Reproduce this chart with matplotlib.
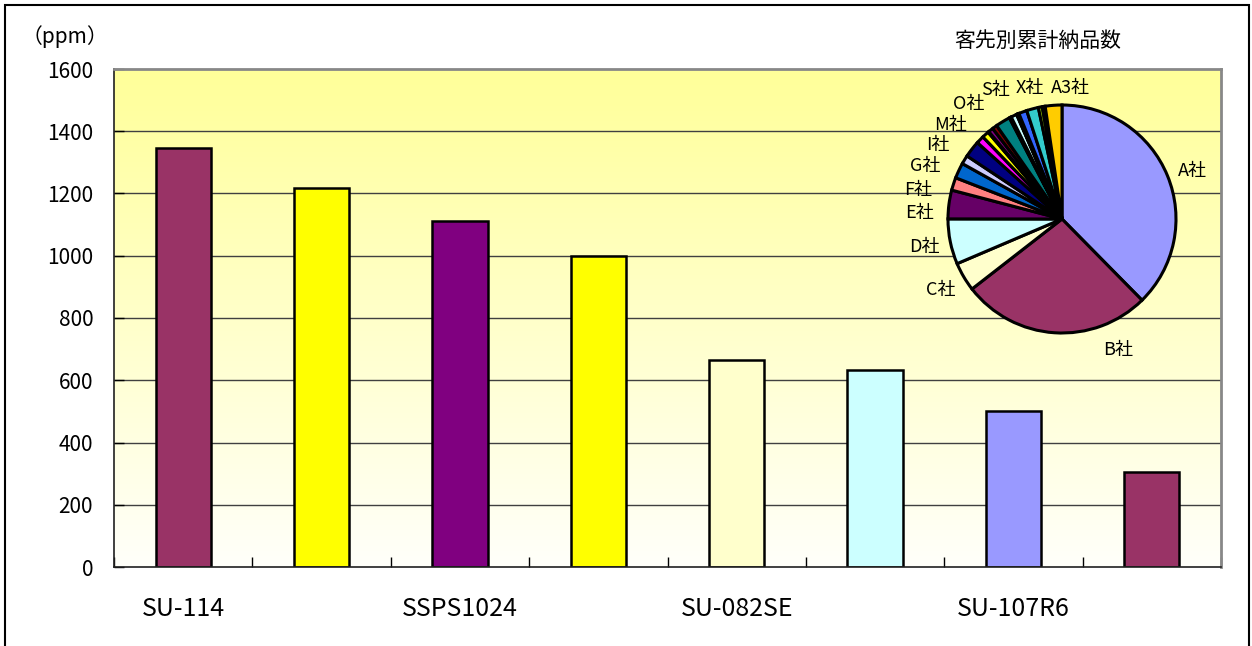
import numpy as np
import matplotlib
matplotlib.use("Agg")
import matplotlib.pyplot as plt
from matplotlib.patches import Rectangle

plt.rcParams['font.family'] = ['Noto Sans CJK JP', 'DejaVu Sans']

# bar chart data (ppm)
products = ["SU-114", "", "SSPS1024", "", "SU-082SE", "", "SU-107R6", ""]
ppm = [1346, 1218, 1113, 1000, 665, 632, 501, 304]
bar_colors = ["#993366", "#FFFF00", "#800080", "#FFFF00",
              "#FFFFCC", "#CCFFFF", "#9999FF", "#993366"]
y_ticks = [0, 200, 400, 600, 800, 1000, 1200, 1400, 1600]

# cumulative deliveries per customer (%)
customers = ["A社", "B社", "C社", "D社", "E社", "F社", "G社", "H社", "I社",
             "J社", "K社", "L社", "M社", "N社", "O社", "P社", "Q社", "R社",
             "S社", "T社", "U社", "V社", "W社", "X社", "Y社", "Z社", "A2社", "A3社"]
share = [37.61, 26.86, 4.11, 6.42, 4.06, 1.81, 2.19, 1.25, 2.36,
         1.11, 0.97, 0.14, 0.69, 0.69, 2.08, 0.14, 0.14, 0.83,
         0.08, 0.08, 0.08, 0.11, 1.17, 1.67, 0.56, 0.22, 0.19, 2.36]
pie_colors = ["#9999FF", "#993366", "#FFFFCC", "#CCFFFF", "#660066", "#FF8080",
              "#0066CC", "#CCCCFF", "#000080", "#FF00FF", "#FFFF00", "#00FFFF",
              "#800080", "#800000", "#008080", "#0000FF", "#00CCFF", "#CCFFFF",
              "#CCFFCC", "#FFFF99", "#99CCFF", "#FF99CC", "#3366FF", "#33CCCC",
              "#99CC00", "#FFCC99", "#FF9900", "#FFCC00"]
shown = ["A社", "B社", "C社", "D社", "E社", "F社", "G社", "I社",
         "M社", "O社", "S社", "X社", "A3社"]
# label offsets: (angle shift in degrees, distance in radii)
label_place = {"A社": (-2, 1.22), "B社": (27, 1.25), "C社": (0, 1.23),
               "D社": (0, 1.23), "E社": (5, 1.25), "F社": (6.5, 1.29),
               "G社": (4, 1.29), "I社": (7, 1.27), "M社": (11, 1.28),
               "O社": (8, 1.30), "S社": (4, 1.27), "X社": (-1, 1.18),
               "A3社": (-8, 1.15)}

W, H = 1252, 646
fig = plt.figure(figsize=(W / 100, H / 100), dpi=100)

ax = fig.add_axes([114 / W, 1 - 567 / H, (1221 - 114) / W, (567 - 69) / H])
x = np.arange(len(ppm))

# yellow gradient background
grad = np.linspace(0, 1, 256).reshape(-1, 1)
top = np.array([255, 255, 153]) / 255
bottom = np.array([255, 255, 250]) / 255
img = bottom + (top - bottom) * grad[:, :, None]
ax.imshow(img, extent=[-0.5, len(ppm) - 0.5, 0, 1600], origin="lower",
          aspect="auto", zorder=0)

for yv in y_ticks[1:-1]:
    ax.axhline(yv, color="#404040", lw=1.0, zorder=1)

ax.bar(x, ppm, width=0.4, color=bar_colors, edgecolor="black", linewidth=1.8, zorder=2)

ax.set_xlim(-0.5, len(ppm) - 0.5)
ax.set_ylim(0, 1600)
ax.set_yticks(y_ticks)
ax.set_yticklabels([str(v) for v in y_ticks], fontsize=15)
ax.tick_params(axis="y", direction="in", length=7, width=1, pad=15)
ax.set_xticks(x)
ax.set_xticklabels(products, fontsize=18)
ax.tick_params(axis="x", length=0, pad=21)
ax.set_xticks(np.arange(len(ppm) + 1) - 0.5, minor=True)
ax.tick_params(axis="x", which="minor", direction="in", length=7, width=1)

for s in ["top", "right"]:
    ax.spines[s].set_color("#888888")
    ax.spines[s].set_linewidth(2)
for s in ["left", "bottom"]:
    ax.spines[s].set_color("#202020")
    ax.spines[s].set_linewidth(1.2)

fig.text(22 / W, 1 - 37 / H, "（ppm）", fontsize=15, ha="left", va="center")

# customer share pie
cx, cy, r = 1062, 219, 114
pax = fig.add_axes([(cx - r) / W, 1 - (cy + r) / H, 2 * r / W, 2 * r / H])
wedges, _ = pax.pie(share, colors=pie_colors, startangle=90, counterclock=False,
                    wedgeprops=dict(edgecolor="black", linewidth=2.2))
pax.set_xlim(-1, 1)
pax.set_ylim(-1, 1)
pax.set_aspect("equal")
pax.axis("off")

for w, name in zip(wedges, customers):
    if name not in shown:
        continue
    shift, dist = label_place[name]
    ang = np.deg2rad((w.theta1 + w.theta2) / 2 + shift)
    pax.text(dist * np.cos(ang), dist * np.sin(ang), name, fontsize=13,
             ha="center", va="center", clip_on=False)

fig.text(1038 / W, 1 - 41 / H, "客先別累計納品数", fontsize=15, ha="center", va="center")

# outer chart frame
fig.patches.append(Rectangle((5 / W, -0.1), 1244 / W, 1.1 - 5 / H, transform=fig.transFigure,
                             fill=False, edgecolor="black", linewidth=1.5))

fig.savefig("out.png", dpi=100)
